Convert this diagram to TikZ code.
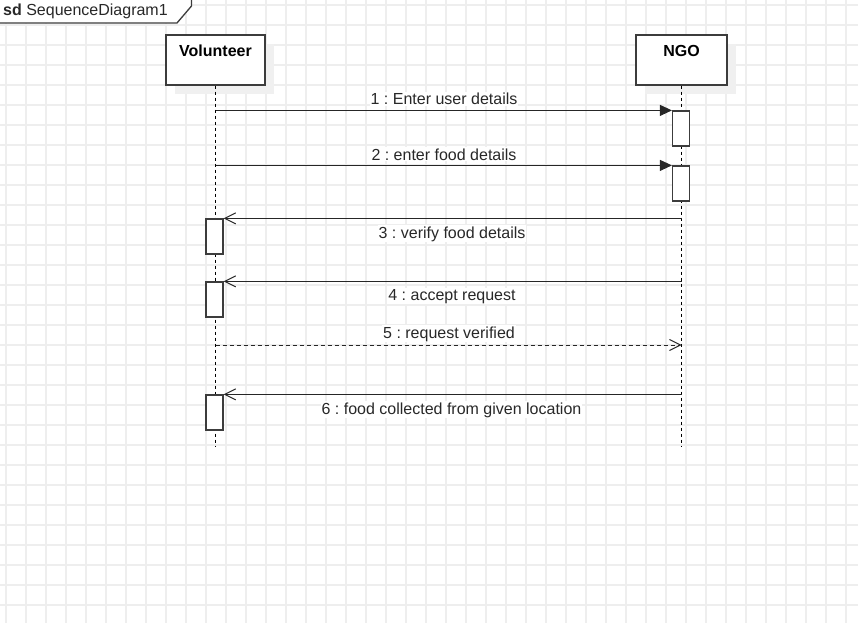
\documentclass[tikz,border=0pt]{standalone}
\usepackage{fontspec}
\setmainfont{Liberation Sans}
\usetikzlibrary{arrows.meta}
\frenchspacing
\definecolor{gridc}{RGB}{238,238,238}
\definecolor{ln}{RGB}{60,60,60}
\definecolor{txt}{RGB}{40,40,40}
\tikzset{
  big/.style={font=\fontsize{16}{19}\selectfont},
  participant/.style={draw=ln, line width=1.4pt, fill=white, minimum height=50pt, inner sep=0pt},
  actbox/.style={draw=ln, line width=1.2pt, fill=white, minimum width=17pt, minimum height=35pt, inner sep=0pt},
  lifeline/.style={draw=black, line width=0.9pt, dash pattern=on 3pt off 3pt},
  sync/.style={draw=black!85, line width=1pt, -{Triangle[length=12pt,width=11pt]}},
  reply/.style={draw=black!85, line width=1pt, -{Straight Barb[length=11pt,width=11pt,line width=1pt]}},
  retmsg/.style={draw=black!85, line width=1pt, dash pattern=on 4pt off 3pt, -{Straight Barb[length=11pt,width=11pt,line width=1pt]}},
  msglabel/.style={big, text=txt, fill=white, inner sep=1pt, anchor=base},
  shadowbox/.style={fill=black!6, draw=none}
}
\begin{document}
\begin{tikzpicture}[x=1pt,y=-1pt]
\useasboundingbox (0,0) rectangle (858,623);
% grid
\foreach \gx in {6,26,...,846} \draw[gridc, line width=1.3pt] (\gx,0) -- (\gx,623);
\foreach \gy in {5,25,...,605} \draw[gridc, line width=1.3pt] (0,\gy) -- (858,\gy);
% frame tab
\fill[white] (-1,-1) -- (191.5,-1) -- (191.5,6) -- (177,23) -- (-1,23) -- cycle;
\draw[ln, line width=1.3pt] (-1,23) -- (177,23) -- (191.5,6) -- (191.5,-1);
\node[big, text=txt, anchor=base west, inner sep=0pt] (title) at (3,16) {\textbf{sd}\ SequenceDiagram1};
% shadows
\fill[shadowbox] (175,44) rectangle (274,94);
\fill[shadowbox] (645,44) rectangle (736,94);
% participants
\node[participant, minimum width=99pt] (volbox) at (215.5,60) {};
\node[big, text=black, font=\fontsize{16}{19}\bfseries, anchor=base] (voltxt) at (volbox.center |- 0,56.5) {Volunteer};
\node[participant, minimum width=91pt] (ngobox) at (681.5,60) {};
\node[big, text=black, font=\fontsize{16}{19}\bfseries, anchor=base] (ngotxt) at (ngobox.center |- 0,56.5) {NGO};
% lifelines
\coordinate (volend) at (215.5,447);
\coordinate (ngoend) at (681.5,447);
\draw[lifeline] (volbox.south) -- (volend);
\draw[lifeline] (ngobox.south) -- (ngoend);
% activations
\node[actbox] (a1) at (681,128.5) {};
\node[actbox] (a2) at (681,183.5) {};
\node[actbox] (b1) at (214.5,236.5) {};
\node[actbox] (b2) at (214.5,299.5) {};
\node[actbox] (b3) at (214.5,412.5) {};
% messages
\draw[sync] (volbox.south |- a1.north) -- (a1.north west);
\draw[sync] (volbox.south |- a2.north) -- (a2.north west);
\draw[reply] (ngobox.south |- b1.north) -- (b1.north east);
\draw[reply] (ngobox.south |- b2.north) -- (b2.north east);
\coordinate (v5) at (215.5,345);
\coordinate (n5) at (681.5,345);
\draw[retmsg] (v5) -- (n5);
\draw[reply] (ngobox.south |- b3.north) -- (b3.north east);
% labels
\node[msglabel] (l1) at (444,105) {1 : Enter user details};
\node[msglabel] (l2) at (444,160) {2 : enter food details};
\node[msglabel] (l3) at (452,238) {3 : verify food details};
\node[msglabel] (l4) at (452,300) {4 : accept request};
\node[msglabel] (l5) at (449,338) {5 : request verified};
\node[msglabel] (l6) at (451.5,414) {6 : food collected from given location};
\end{tikzpicture}
\end{document}
